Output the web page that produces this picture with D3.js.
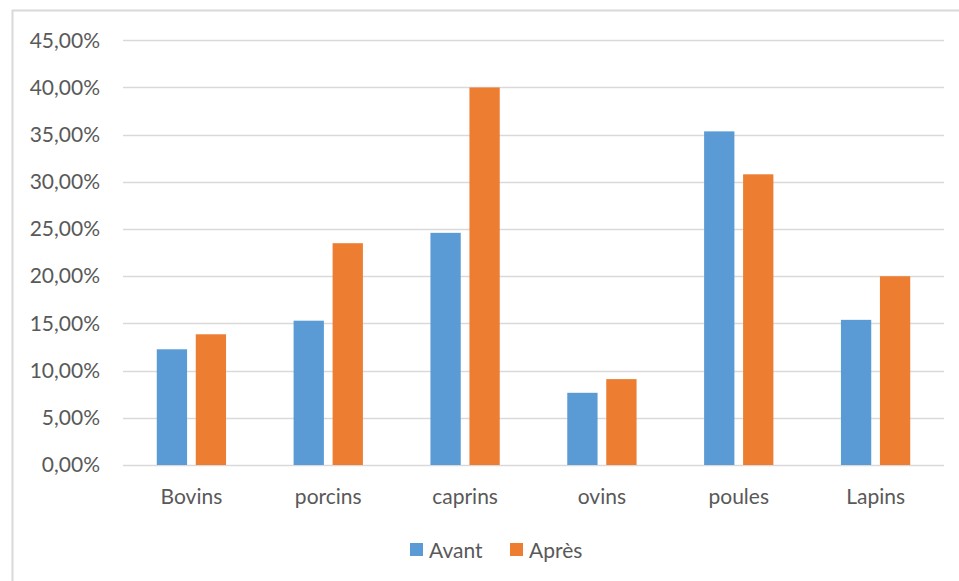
<!DOCTYPE html>
<html>
<head>
<meta charset="utf-8">
<script src="https://cdn.jsdelivr.net/npm/d3@7"></script>
<style>
  html, body { margin: 0; padding: 0; background: #fff; }
  svg { display: block; }
  text { font-family: "Lato", "Open Sans", sans-serif; fill: #595959; }
</style>
</head>
<body>
<svg id="chart" width="959" height="581"></svg>
<script>
// Categories and series
const categories = ["Bovins", "porcins", "caprins", "ovins", "poules", "Lapins"];
const seriesNames = ["Avant", "Après"];
const avant = [0.1226, 0.1529, 0.2460, 0.0765, 0.3535, 0.1538];
const apres = [0.1385, 0.2350, 0.4000, 0.0910, 0.3080, 0.2000];
const yTicks = [0, 0.05, 0.10, 0.15, 0.20, 0.25, 0.30, 0.35, 0.40, 0.45];
const colors = ["#5b9bd5", "#ed7d31"];

const svg = d3.select("#chart");
const FS = 21;

// Chart frame (left and top edges visible)
svg.append("rect")
  .attr("x", 12.5).attr("y", 10.5)
  .attr("width", 1000).attr("height", 700)
  .attr("fill", "#fff")
  .attr("stroke", "#d9d9d9")
  .attr("stroke-width", 2);

const plot = { left: 123, right: 944, top: 40.3, bottom: 465 };

const y = d3.scaleLinear()
  .domain([0, 0.45])
  .range([plot.bottom, plot.top]);

const x0 = d3.scaleBand()
  .domain(categories)
  .range([plot.left, plot.right])
  .padding(0);

const x1 = d3.scaleBand()
  .domain(seriesNames)
  .range([0, x0.bandwidth()])
  .paddingInner(0.223)
  .paddingOuter(0.866);

const fmt = v => d3.format(".2f")(v * 100).replace(".", ",") + "%";

// Gridlines
svg.append("g")
  .selectAll("line")
  .data(yTicks)
  .join("line")
  .attr("x1", plot.left).attr("x2", plot.right)
  .attr("y1", d => Math.round(y(d)) + 0.5)
  .attr("y2", d => Math.round(y(d)) + 0.5)
  .attr("stroke", "#d9d9d9")
  .attr("stroke-width", 1.3);

// Y axis labels
const yAxis = d3.axisLeft(y).tickValues(yTicks).tickFormat(fmt).tickSize(0).tickPadding(0);
const gy = svg.append("g")
  .attr("transform", `translate(${plot.left - 23},0)`)
  .call(yAxis);
gy.select(".domain").remove();
gy.selectAll("text")
  .attr("font-size", FS)
  .style("font-family", "Lato, sans-serif")
  .attr("fill", "#595959");

// Bars
const rows = categories.map((c, i) => ({ cat: c, values: [avant[i], apres[i]] }));
const groups = svg.append("g")
  .selectAll("g")
  .data(rows)
  .join("g")
  .attr("transform", d => `translate(${x0(d.cat)},0)`);

groups.selectAll("rect")
  .data(d => d.values.map((v, k) => ({ name: seriesNames[k], v, k })))
  .join("rect")
  .attr("x", d => x1(d.name))
  .attr("width", x1.bandwidth())
  .attr("y", d => y(d.v))
  .attr("height", d => y(0) - y(d.v))
  .attr("fill", d => colors[d.k]);

// X axis labels
const xAxis = d3.axisBottom(x0).tickSize(0).tickPadding(0);
const gx = svg.append("g")
  .attr("transform", `translate(0,${plot.bottom + 39})`)
  .call(xAxis);
gx.select(".domain").remove();
gx.selectAll("text")
  .attr("font-size", FS)
  .attr("dy", 0)
  .style("font-family", "Lato, sans-serif")
  .attr("fill", "#595959");

// Legend
const legendItems = [
  { name: "Avant", color: colors[0], x: 410 },
  { name: "Après", color: colors[1], x: 510 }
];
const lg = svg.append("g");
legendItems.forEach(it => {
  lg.append("rect")
    .attr("x", it.x).attr("y", 543)
    .attr("width", 13).attr("height", 13)
    .attr("fill", it.color);
  lg.append("text")
    .attr("x", it.x + 19).attr("y", 557.5)
    .attr("font-size", FS)
    .text(it.name);
});
</script>
</body>
</html>
